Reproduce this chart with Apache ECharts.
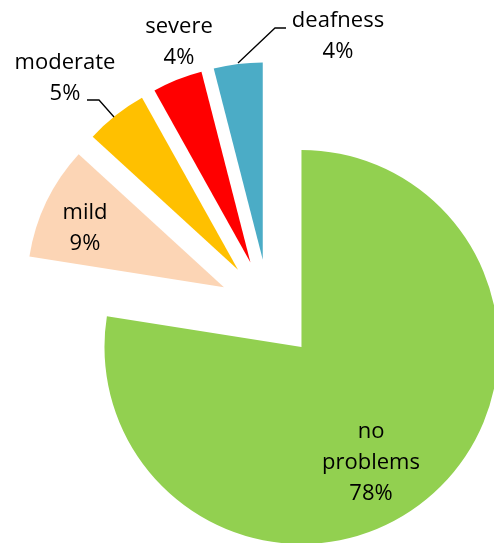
<!DOCTYPE html>
<html>
<head>
<meta charset="utf-8">
<script src="https://cdn.jsdelivr.net/npm/echarts@6/dist/echarts.min.js"></script>
<style>
html,body{margin:0;padding:0;background:#fff;}
#chart{width:494px;height:543px;}
</style>
</head>
<body>
<div id="chart"></div>
<script>
const categories = ['no problems', 'mild', 'moderate', 'severe', 'deafness'];
const values = [77.5, 9.3, 5.1, 4.1, 4.0];
const colors = ['#92D050', '#FCD5B5', '#FFC000', '#FF0000', '#4BACC6'];

// label placement (text centre) and leader lines, per slice
const labelSpots = [
  { x: 371, y: 463 },
  { x: 85, y: 228 },
  { x: 65, y: 78, line: [[114, 117], [99, 100], [87, 100]] },
  { x: 179, y: 42 },
  { x: 338, y: 36, line: [[238, 63], [275, 28], [286, 28]] }
];

const total = values.reduce((a, b) => a + b, 0);
const labelText = (i) => categories[i].replace(' ', '\n') + '\n' + Math.round(values[i] / total * 100) + '%';

const graphics = [];
categories.forEach((c, i) => {
  const s = labelSpots[i];
  graphics.push({
    type: 'text', x: s.x, y: s.y, z: 10,
    style: {
      text: labelText(i),
      font: '22px "Open Sans"',
      fill: '#000',
      textAlign: 'center',
      textVerticalAlign: 'middle',
      lineHeight: 31
    }
  });
  if (s.line) {
    graphics.push({
      type: 'polyline', z: 10,
      shape: { points: s.line },
      style: { stroke: '#000', lineWidth: 1.3, fill: null }
    });
  }
});

const chart = echarts.init(document.getElementById('chart'));
chart.setOption({
  animation: false,
  backgroundColor: '#ffffff',
  graphic: graphics,
  series: [{
    type: 'pie',
    center: [269, 309],
    radius: 197,
    startAngle: 90,
    clockwise: true,
    selectedMode: 'multiple',
    selectedOffset: 50,
    itemStyle: { borderWidth: 0 },
    select: { itemStyle: { borderWidth: 0 } },
    emphasis: { disabled: true },
    label: { show: false },
    labelLine: { show: false },
    data: categories.map((c, i) => ({
      name: c,
      value: values[i],
      selected: true,
      itemStyle: { color: colors[i] }
    }))
  }]
});
</script>
</body>
</html>
